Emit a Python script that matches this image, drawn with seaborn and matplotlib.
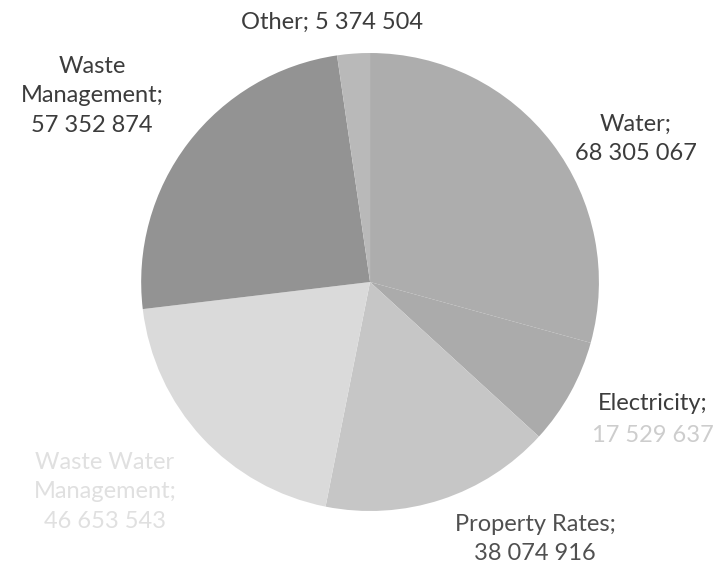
import matplotlib
matplotlib.use("Agg")
import matplotlib.pyplot as plt
import seaborn as sns

categories = ["Water", "Electricity", "Property Rates", "Waste Water Management",
              "Waste Management", "Other"]
values = [68305067, 17529637, 38074916, 46653543, 57352874, 5374504]
label_texts = ["Water;\n68 305 067", "Electricity;\n17 529 637",
               "Property Rates;\n38 074 916", "Waste Water\nManagement;\n46 653 543",
               "Waste\nManagement;\n57 352 874", "Other; 5 374 504"]

sns.set_theme(style="white")
plt.rcParams['font.family'] = ['Lato', 'DejaVu Sans']

colors = ["#adadad", "#ababab", "#c6c6c6", "#dadada", "#939393", "#b9b9b9"]

fig = plt.figure(figsize=(7.13, 5.64), dpi=100)
fig.patch.set_facecolor("white")
ax = fig.add_axes([0.198, 0.094, 0.642, 0.812])
ax.pie(values, colors=colors, startangle=90, counterclock=False,
       wedgeprops=dict(linewidth=0))
ax.set_aspect("auto")
ax.set_xlim(-1, 1)
ax.set_ylim(-1, 1)
ax.axis("off")

FS = 17
# label positions (figure pixel centers) and colors
pos = {
    "Water": (636, 139, "#3c3c3c"),
    "Electricity": (653, 419, "#3c3c3c"),
    "Property Rates": (535, 539, "#505050"),
    "Waste Water Management": (105, 492, "#e0e0e0"),
    "Waste Management": (92, 96, "#3c3c3c"),
    "Other": (332, 22, "#3c3c3c"),
}
for cat, txt in zip(categories, label_texts):
    x, y, c = pos[cat]
    if cat == "Electricity":
        name, val = txt.split("\n")
        fig.text(x / 713, 1 - 403 / 564, name, ha="center", va="center",
                 fontsize=FS, color=c)
        fig.text(x / 713, 1 - 435 / 564, val, ha="center", va="center",
                 fontsize=FS, color="#cdcdcd")
    else:
        fig.text(x / 713, 1 - y / 564, txt, ha="center", va="center",
                 fontsize=FS, color=c, linespacing=1.5)

fig.savefig("out.png", dpi=100, facecolor="white")
